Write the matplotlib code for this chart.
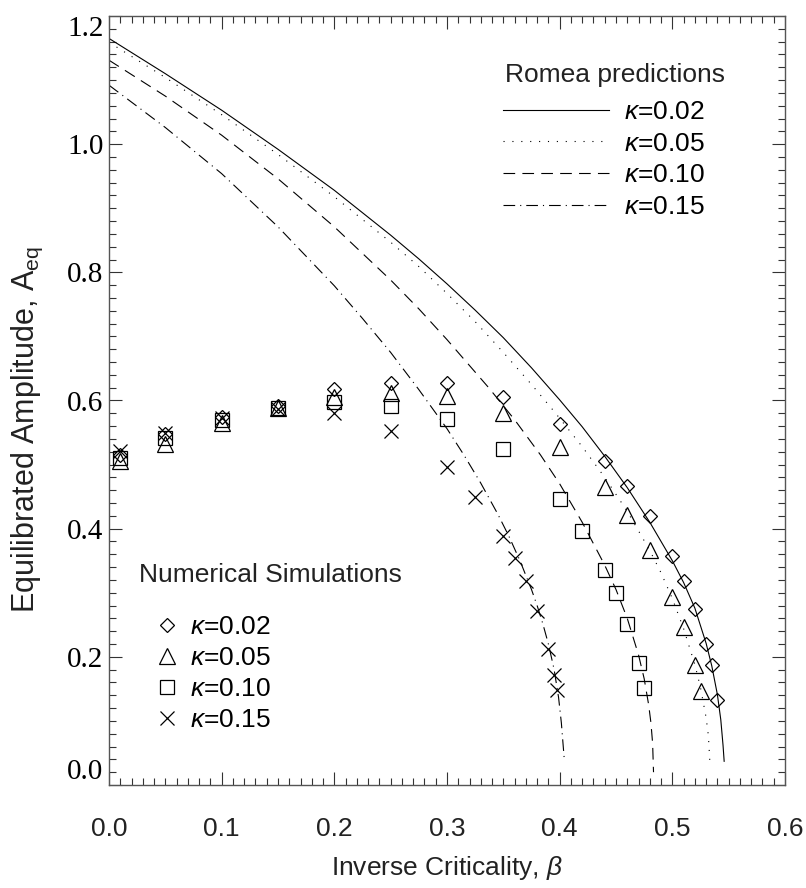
import matplotlib
matplotlib.use("Agg")
import matplotlib.pyplot as plt
from matplotlib.ticker import MultipleLocator

plt.rcParams['font.family'] = ['Liberation Sans', 'DejaVu Sans']
plt.rcParams['mathtext.fontset'] = 'custom'
plt.rcParams['mathtext.rm'] = 'Liberation Sans'
plt.rcParams['mathtext.it'] = 'Liberation Sans:italic'
plt.rcParams['mathtext.bf'] = 'Liberation Sans:bold'

kappas = ['0.02', '0.05', '0.10', '0.15']

# Romea predictions (curves)
beta_rom02 = [0.0, 0.05, 0.10, 0.15, 0.20, 0.25, 0.275, 0.30, 0.325, 0.35, 0.375, 0.40,
              0.42, 0.44, 0.46, 0.48, 0.50, 0.51, 0.52, 0.53, 0.535, 0.54, 0.543, 0.545,
              0.546]
amp_rom02 = [1.165, 1.110, 1.053, 0.992, 0.928, 0.858, 0.821, 0.782, 0.741, 0.698, 0.651,
             0.601, 0.559, 0.513, 0.464, 0.410, 0.350, 0.316, 0.276, 0.221, 0.186, 0.141,
             0.102, 0.062, 0.037]

beta_rom05 = [0.0, 0.05, 0.10, 0.15, 0.20, 0.25, 0.275, 0.30, 0.325, 0.35, 0.375, 0.396,
              0.42, 0.44, 0.46, 0.48, 0.49, 0.50, 0.51, 0.52, 0.525, 0.53, 0.532, 0.5335]
amp_rom05 = [1.159, 1.104, 1.046, 0.984, 0.918, 0.847, 0.809, 0.767, 0.723, 0.675, 0.625,
             0.581, 0.528, 0.480, 0.427, 0.366, 0.331, 0.291, 0.244, 0.188, 0.152, 0.105,
             0.077, 0.030]

beta_rom10 = [0.0, 0.05, 0.10, 0.15, 0.20, 0.25, 0.275, 0.30, 0.337, 0.36, 0.383, 0.40,
              0.42, 0.44, 0.45, 0.46, 0.47, 0.475, 0.479, 0.481, 0.4825, 0.4833]
amp_rom10 = [1.131, 1.075, 1.014, 0.946, 0.871, 0.788, 0.743, 0.695, 0.620, 0.570, 0.515,
             0.470, 0.410, 0.343, 0.305, 0.260, 0.203, 0.166, 0.125, 0.097, 0.065, 0.020]

beta_rom15 = [0.0, 0.05, 0.10, 0.15, 0.20, 0.225, 0.25, 0.275, 0.30, 0.315, 0.33, 0.345,
              0.355, 0.365, 0.375, 0.38, 0.385, 0.39, 0.395, 0.399, 0.4015, 0.404]
amp_rom15 = [1.092, 1.026, 0.954, 0.871, 0.779, 0.728, 0.675, 0.617, 0.556, 0.515, 0.471,
             0.423, 0.388, 0.349, 0.305, 0.280, 0.252, 0.220, 0.181, 0.137, 0.097, 0.042]

# Numerical simulations (symbols)
beta_sim02 = [0.01, 0.05, 0.10, 0.15, 0.20, 0.25, 0.30, 0.35, 0.40, 0.44, 0.46, 0.48,
              0.50, 0.51, 0.52, 0.53, 0.535, 0.54]
amp_sim02 = [0.515, 0.548, 0.575, 0.592, 0.618, 0.627, 0.627, 0.606, 0.563, 0.505, 0.467,
             0.419, 0.357, 0.319, 0.275, 0.220, 0.188, 0.133]

beta_sim05 = [0.01, 0.05, 0.10, 0.15, 0.20, 0.25, 0.30, 0.35, 0.40, 0.44, 0.46, 0.48,
              0.50, 0.51, 0.52, 0.525]
amp_sim05 = [0.505, 0.532, 0.565, 0.588, 0.605, 0.612, 0.607, 0.580, 0.527, 0.465, 0.421,
             0.366, 0.294, 0.247, 0.188, 0.147]

beta_sim10 = [0.01, 0.05, 0.10, 0.15, 0.20, 0.25, 0.30, 0.35, 0.40, 0.42, 0.44, 0.45,
              0.46, 0.47, 0.475]
amp_sim10 = [0.510, 0.541, 0.570, 0.588, 0.598, 0.592, 0.571, 0.525, 0.446, 0.397, 0.336,
             0.299, 0.252, 0.191, 0.152]

beta_sim15 = [0.01, 0.05, 0.10, 0.15, 0.20, 0.25, 0.30, 0.325, 0.35, 0.36, 0.37, 0.38,
              0.39, 0.395, 0.398]
amp_sim15 = [0.521, 0.550, 0.572, 0.586, 0.580, 0.552, 0.496, 0.450, 0.388, 0.355, 0.319,
             0.272, 0.213, 0.171, 0.149]

W, H = 806, 888
fig = plt.figure(figsize=(W / 100, H / 100), dpi=100)
ax = fig.add_axes([109 / W, 1 - 785 / H, 676 / W, 769 / H])

lw = 0.8
styles = ['-', (0, (1, 7)), (0, (10.5, 6.5)), (0, (10.5, 4.5, 1, 4.5))]
rom = [(beta_rom02, amp_rom02), (beta_rom05, amp_rom05),
       (beta_rom10, amp_rom10), (beta_rom15, amp_rom15)]
lines = []
for (b, a), ls, k in zip(rom, styles, kappas):
    ln, = ax.plot(b, a, color='black', lw=lw, linestyle=ls, label=r'$\kappa$=' + k)
    lines.append(ln)

markers = [('D', 7.6), ('^', 11), ('s', 10), ('x', 10)]
sim = [(beta_sim02, amp_sim02), (beta_sim05, amp_sim05),
       (beta_sim10, amp_sim10), (beta_sim15, amp_sim15)]
pts = []
for (b, a), (m, ms), k in zip(sim, markers, kappas):
    p, = ax.plot(b, a, linestyle='none', marker=m, ms=ms, mfc='none', mec='black',
                 mew=0.9, label=r'$\kappa$=' + k)
    pts.append(p)

ax.set_xlim(0, 0.6)
ax.set_ylim(0, 1.2)
ax.xaxis.set_minor_locator(MultipleLocator(0.01))
ax.yaxis.set_minor_locator(MultipleLocator(0.02))
ax.set_xticks([0.0, 0.1, 0.2, 0.3, 0.4, 0.5, 0.6])
ax.set_yticks([0.0, 0.2, 0.4, 0.6, 0.8, 1.0, 1.2])
ax.set_xticklabels(['0.0', '0.1', '0.2', '0.3', '0.4', '0.5', '0.6'])
ax.set_yticklabels(['0.0', '0.2', '0.4', '0.6', '0.8', '1.0', '1.2'])
ax.tick_params(which='both', direction='in', top=True, right=True, color='#333333')
ax.tick_params(which='major', length=9.5, width=0.8)
ax.tick_params(which='minor', length=5, width=0.8)
ax.tick_params(axis='x', which='major', pad=23, labelsize=19, labelcolor='#222222')
ax.tick_params(axis='y', which='major', pad=4, labelsize=21)
for t in ax.get_yticklabels():
    t.set_fontfamily('Liberation Serif')
ylabs = ax.get_yticklabels()
ylabs[0].set_va('bottom')
ylabs[-1].set_va('top')
for s in ax.spines.values():
    s.set_color('#555555')
    s.set_linewidth(1.0)

ax.set_xlabel(r'Inverse Criticality, $\beta$', fontsize=19, color='#222222')
ax.xaxis.set_label_coords(0.5, -0.108)
ax.xaxis.label.set_va('center')
ax.set_ylabel(r'Equilibrated Amplitude, A$_{\mathrm{eq}}$', fontsize=22, color='#222222')
ax.yaxis.set_label_coords(-0.12, 0.462)
ax.yaxis.label.set_va('center')

fs = 19
leg1 = ax.legend(handles=lines, loc='upper left', frameon=False, fontsize=fs,
                 handlelength=4.0, handletextpad=0.6, labelspacing=0.29, borderpad=0,
                 borderaxespad=0, bbox_to_anchor=(503 / W, 1 - 100 / H),
                 bbox_transform=fig.transFigure)
ax.add_artist(leg1)
ax.legend(handles=pts, loc='upper left', frameon=False, fontsize=fs,
          handlelength=0.8, handletextpad=0.5, labelspacing=0.27, borderpad=0,
          borderaxespad=0, bbox_to_anchor=(156 / W, 1 - 615 / H),
          bbox_transform=fig.transFigure)

fig.text(505 / W, 1 - 75 / H, 'Romea predictions', fontsize=fs, va='center', color='#222222')
fig.text(139 / W, 1 - 575 / H, 'Numerical Simulations', fontsize=fs, va='center',
         color='#222222')

fig.savefig('out.png', dpi=100)
